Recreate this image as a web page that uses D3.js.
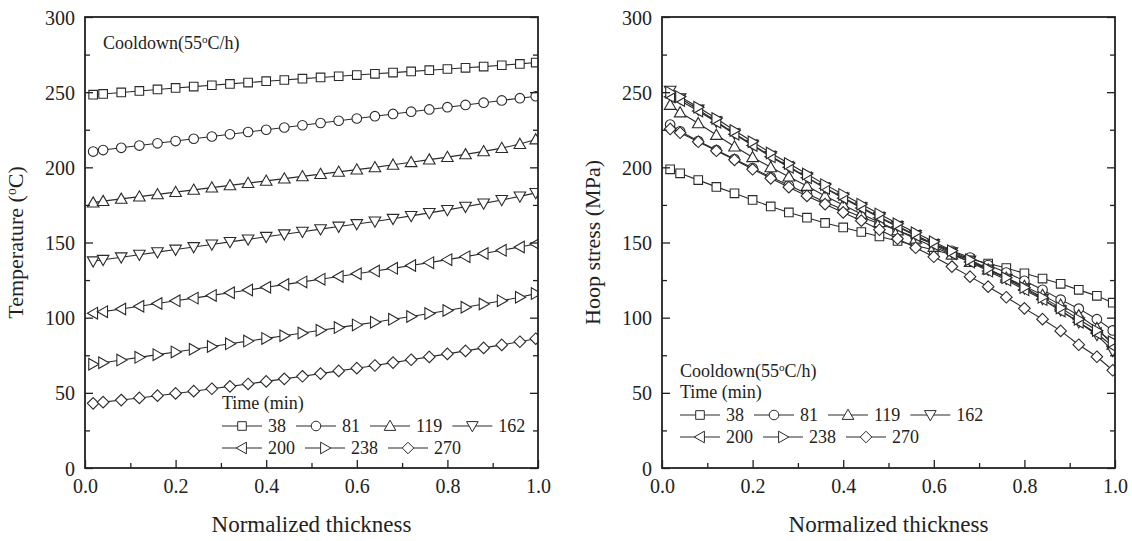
<!DOCTYPE html>
<html>
<head>
<meta charset="utf-8">
<script src="https://cdn.jsdelivr.net/npm/d3@7"></script>
<style>
  body { margin: 0; background: #fff; }
  svg text { font-family: "Liberation Serif", "DejaVu Serif", serif; fill: #222; }
</style>
</head>
<body>
<svg id="chart" width="1132" height="541"></svg>
<script>
// Normalized thickness positions (shared by both panels)
const thickness = [0.018, 0.04, 0.08, 0.12, 0.16, 0.2, 0.24, 0.28, 0.32, 0.36, 0.4, 0.44, 0.48,
  0.52, 0.56, 0.6, 0.64, 0.68, 0.72, 0.76, 0.8, 0.84, 0.88, 0.92, 0.96, 0.995];

const times = ["38", "81", "119", "162", "200", "238", "270"];
const shapes = ["square", "circle", "up", "down", "left", "right", "diamond"];

// Temperature (oC) vs thickness, one array per time
const temp38 = [248.3, 248.8, 249.8, 250.8, 251.8, 252.8, 253.7, 254.6, 255.5, 256.4, 257.3, 258.1, 259.0,
  259.8, 260.6, 261.4, 262.2, 263.0, 263.8, 264.6, 265.4, 266.2, 267.0, 267.9, 268.8, 269.7];
const temp81 = [210.5, 211.5, 213, 214.5, 216, 217.5, 219, 220.5, 222, 223.5, 225, 226.5, 228,
  229.5, 231, 232.5, 234, 235.5, 237, 238.5, 240, 241.5, 243, 244.5, 246, 247.3];
const temp119 = [176.5, 177.5, 179, 180.5, 182, 183.5, 185, 186.5, 188, 189.5, 191, 192.5, 194,
  195.5, 197, 198.5, 200, 201.7, 203.4, 205.1, 206.8, 208.6, 210.6, 212.8, 215.5, 218.5];
const temp162 = [137.5, 138.5, 140.2, 141.9, 143.6, 145.3, 147, 148.7, 150.4, 152.1, 153.8, 155.5, 157.2,
  158.9, 160.6, 162.3, 164, 165.8, 167.7, 169.7, 171.7, 173.8, 176, 178.3, 180.7, 183];
const temp200 = [103, 104, 105.8, 107.6, 109.4, 111.2, 113, 114.8, 116.6, 118.4, 120.2, 122, 123.8,
  125.6, 127.4, 129.2, 131, 132.8, 134.7, 136.6, 138.6, 140.6, 142.7, 144.8, 147, 149];
const temp238 = [69, 70, 71.8, 73.6, 75.4, 77.2, 79, 80.8, 82.6, 84.4, 86.2, 88, 89.8,
  91.6, 93.4, 95.2, 97, 98.9, 100.8, 102.8, 104.8, 106.9, 109.1, 111.3, 113.6, 116];
const temp270 = [43, 43.8, 45.2, 46.6, 48.1, 49.6, 51.1, 52.7, 54.3, 55.9, 57.6, 59.3, 61,
  62.8, 64.6, 66.4, 68.2, 70.1, 72, 73.9, 75.9, 77.9, 79.9, 81.9, 84, 86];

// Hoop stress (MPa) vs thickness, one array per time
const stress38 = [198.7, 196, 191.5, 187, 182.7, 178.3, 174, 170, 166.5, 163, 160, 157, 154,
  151, 148, 145, 142, 139, 136, 133, 129.5, 126, 122.5, 118.5, 114.5, 110];
const stress81 = [228.5, 224, 217.5, 211.5, 205.5, 199.5, 193.5, 188, 182.5, 177, 172, 167, 162.5,
  158, 153.5, 149, 144.5, 140, 135, 130, 124.5, 118.5, 112, 106, 99, 91.5];
const stress119 = [241.5, 236.5, 229.3, 221.5, 213.8, 206.7, 200, 193.8, 187.6, 181, 175, 169, 163.5,
  158, 152.5, 147, 142, 137, 132, 126.5, 121, 115, 108.5, 101.5, 93, 82];
const stress162 = [251, 246, 238.5, 230.5, 222.5, 215, 207.5, 200.5, 193.5, 186.5, 180, 173.5, 167,
  161, 155, 149, 143.5, 138, 132, 126, 119.5, 112.5, 105, 97, 88.5, 78];
const stress200 = [247, 244.5, 237.5, 230, 222, 214.5, 207, 200, 193, 186, 179.5, 173, 166.5,
  160.5, 154.5, 148.5, 142.5, 137, 131, 125, 118.5, 112, 104.5, 97, 89.5, 81];
const stress238 = [250, 247, 240, 232.5, 224.5, 217, 209.5, 202.5, 195.5, 188.5, 182, 175.5, 169,
  162.5, 156.5, 150.5, 144.5, 138.5, 132.5, 126.5, 120, 113.5, 106.5, 99, 91.5, 84];
const stress270 = [225.5, 223, 217, 211, 205, 198.7, 192.7, 186.8, 181, 175.5, 170, 164.5, 158.5,
  152.5, 146.5, 140.5, 134, 127.3, 120.6, 113.6, 106.2, 99, 91.2, 82, 74, 65];

const xTicks = [0.0, 0.2, 0.4, 0.6, 0.8, 1.0];
const yTicks = [0, 50, 100, 150, 200, 250, 300];

const svg = d3.select("#chart");

// marker outline for each shape, centred on 0,0
function markerPath(shape) {
  const p = d3.path();
  if (shape === "square") {
    p.rect(-4.3, -4.3, 8.6, 8.6);
  } else if (shape === "circle") {
    p.arc(0, 0, 4.8, 0, 2 * Math.PI);
    p.closePath();
  } else if (shape === "diamond") {
    p.moveTo(0, -5.8); p.lineTo(5.8, 0); p.lineTo(0, 5.8); p.lineTo(-5.8, 0); p.closePath();
  } else {
    const a = 5.8, b = 5;
    let pts;
    if (shape === "up") pts = [[0, -a], [b + 0.8, b - 0.6], [-b - 0.8, b - 0.6]];
    if (shape === "down") pts = [[0, a], [b + 0.8, -b + 0.6], [-b - 0.8, -b + 0.6]];
    if (shape === "left") pts = [[-a, 0], [b - 0.6, b + 0.8], [b - 0.6, -b - 0.8]];
    if (shape === "right") pts = [[a, 0], [-b + 0.6, b + 0.8], [-b + 0.6, -b - 0.8]];
    p.moveTo(pts[0][0], pts[0][1]);
    p.lineTo(pts[1][0], pts[1][1]);
    p.lineTo(pts[2][0], pts[2][1]);
    p.closePath();
  }
  return p.toString();
}

// text with a superscript "o" in front of C
function degreeText(sel, before, after) {
  sel.append("tspan").text(before);
  sel.append("tspan").attr("font-size", "0.62em").attr("dy", "-0.55em").text("o");
  sel.append("tspan").attr("dy", "0.34em").text(after);
}

function drawPanel(cfg) {
  const x = d3.scaleLinear().domain([0, 1]).range([cfg.left, cfg.left + 453]);
  const y = d3.scaleLinear().domain([0, 300]).range([468, 17]);
  const g = svg.append("g");

  const clipId = "clip" + cfg.id;
  g.append("clipPath").attr("id", clipId)
    .append("rect").attr("x", x(0)).attr("y", y(300)).attr("width", 453).attr("height", 451);

  // series
  const line = d3.line().x((d, i) => x(thickness[i])).y(d => y(d));
  const plot = g.append("g").attr("clip-path", `url(#${clipId})`);
  cfg.series.forEach((vals, k) => {
    plot.append("path").datum(vals)
      .attr("d", line).attr("fill", "none").attr("stroke", "#2a2a2a").attr("stroke-width", 1.1);
  });
  cfg.series.forEach((vals, k) => {
    plot.selectAll(null).data(vals).enter().append("path")
      .attr("transform", (d, i) => `translate(${x(thickness[i])},${y(d)})`)
      .attr("d", markerPath(shapes[k]))
      .attr("fill", "#fff").attr("stroke", "#2a2a2a").attr("stroke-width", 1.1);
  });

  // axes (ticks inside)
  const xAxis = g.append("g").attr("transform", `translate(0,${y(0)})`)
    .call(d3.axisBottom(x).tickValues(d3.range(0, 1.01, 0.1)).tickSize(-5).tickPadding(11)
      .tickFormat(d => xTicks.some(t => Math.abs(t - d) < 1e-6) ? d3.format(".1f")(d) : ""));
  xAxis.selectAll(".tick line").attr("y2", (d, i) => i % 2 === 0 ? -8 : -5);

  const yAxis = g.append("g").attr("transform", `translate(${x(0)},0)`)
    .call(d3.axisLeft(y).tickValues(d3.range(0, 301, 25)).tickSize(-5).tickPadding(10)
      .tickFormat(d => yTicks.includes(d) ? d : ""));
  yAxis.selectAll(".tick line").attr("x2", (d, i) => i % 2 === 0 ? 8 : 5);

  const yRight = g.append("g").attr("transform", `translate(${x(1)},0)`)
    .call(d3.axisRight(y).tickValues(d3.range(0, 301, 25)).tickSize(-5).tickFormat(""));
  yRight.selectAll(".tick line").attr("x2", (d, i) => i % 2 === 0 ? -8 : -5);

  [xAxis, yAxis, yRight].forEach(a => {
    a.attr("font-family", null);
    a.select(".domain").remove();
    a.selectAll(".tick line").attr("stroke", "#222").attr("stroke-width", 1.3);
    a.selectAll(".tick text").attr("font-size", 20).attr("fill", "#222");
  });
  yAxis.selectAll(".tick text").attr("dy", "0.35em");

  // frame: left, bottom, right, top
  g.append("rect").attr("x", x(0)).attr("y", y(300)).attr("width", 453).attr("height", 451)
    .attr("fill", "none").attr("stroke", "#222").attr("stroke-width", 1.8);

  // axis titles
  g.append("text").attr("x", x(0.5)).attr("y", 532).attr("text-anchor", "middle")
    .attr("font-size", 23).text("Normalized thickness");
  const yt = g.append("text").attr("text-anchor", "middle").attr("font-size", 22)
    .attr("transform", `translate(${cfg.left - 62},${y(150)}) rotate(-90)`);
  cfg.yTitle(yt);

  // annotation and legend
  degreeText(g.append("text").attr("x", cfg.noteX).attr("y", cfg.noteY).attr("font-size", 18),
    "Cooldown(55", "C/h)");
  g.append("text").attr("x", cfg.legX).attr("y", cfg.legY).attr("font-size", 18).text("Time (min)");

  cfg.rows.forEach((row, r) => {
    let cx = cfg.legX;
    const cy = cfg.legY + 17 + r * 22;
    row.forEach(k => {
      g.append("line").attr("x1", cx).attr("x2", cx + 40).attr("y1", cy).attr("y2", cy)
        .attr("stroke", "#2a2a2a").attr("stroke-width", 1.1);
      g.append("path").attr("transform", `translate(${cx + 20},${cy})`)
        .attr("d", markerPath(shapes[k])).attr("fill", "#fff").attr("stroke", "#2a2a2a");
      const t = g.append("text").attr("x", cx + 46).attr("y", cy + 6).attr("font-size", 18).text(times[k]);
      cx += 46 + t.node().getComputedTextLength() + 10;
    });
  });
}

drawPanel({
  id: "T", left: 85,
  series: [temp38, temp81, temp119, temp162, temp200, temp238, temp270],
  yTitle: t => degreeText(t, "Temperature (", "C)"),
  noteX: 103, noteY: 49,
  legX: 222, legY: 409,
  rows: [[0, 1, 2, 3], [4, 5, 6]]
});

drawPanel({
  id: "S", left: 662,
  series: [stress38, stress81, stress119, stress162, stress200, stress238, stress270],
  yTitle: t => t.text("Hoop stress (MPa)"),
  noteX: 680, noteY: 377,
  legX: 680, legY: 398,
  rows: [[0, 1, 2, 3], [4, 5, 6]]
});
</script>
</body>
</html>
